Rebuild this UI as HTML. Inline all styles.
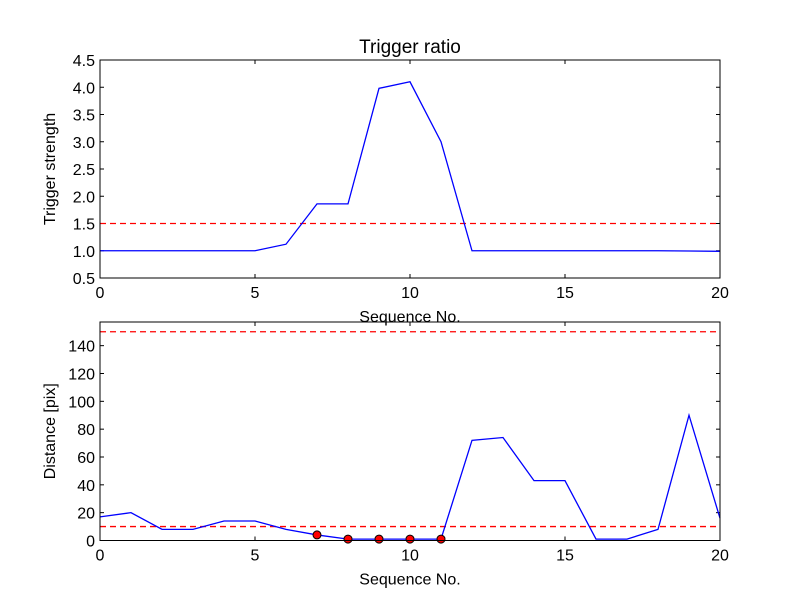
<!DOCTYPE html>
<html><head><meta charset="utf-8"><style>
body{margin:0;background:#fff}
svg text{font-family:"Liberation Sans",sans-serif;fill:#000}
</style></head><body>
<svg width="800" height="600" xmlns="http://www.w3.org/2000/svg">
<rect width="800" height="600" fill="#fff"/>
<g id="g"></g>
</svg>
<script>
const seq=[0,1,2,3,4,5,6,7,8,9,10,11,12,13,14,15,16,17,18,19,20];
const strength=[1,1,1,1,1,1,1.12,1.86,1.86,3.98,4.1,3.0,1,1,1,1,1,1,1,0.995,0.99];
const strengthThreshold=1.5;
const distance=[17,20,8,8,14,14,8,4,1,1,1,1,72,74,43,43,1,1,8,90,16];
const markerSeq=[7,8,9,10,11];
const markerVals=[4,1,1,1,1];
const distThresholds=[10,150];
const xTicks=[0,5,10,15,20];
const topTicks=[0.5,1.0,1.5,2.0,2.5,3.0,3.5,4.0,4.5];
const botTicks=[0,20,40,60,80,100,120,140];

const NS="http://www.w3.org/2000/svg";
const g=document.getElementById('g');
function el(t,a,p){const e=document.createElementNS(NS,t);for(const k in a)e.setAttribute(k,a[k]);(p||g).appendChild(e);return e;}
function txt(s,a){const e=el('text',a);e.textContent=s;return e;}
const X0=100,X1=720;
const xs=v=>X0+(v-0)/20*(X1-X0);

function panel(name,top,bot,ymin,ymax,yticks,fmt,ylabel){
  const ys=v=>bot-(v-ymin)/(ymax-ymin)*(bot-top);
  const grp=el('g',{});
  
  
  xTicks.forEach(t=>{
    el('line',{x1:xs(t),x2:xs(t),y1:bot,y2:bot-4,stroke:'#000'},grp);
    el('line',{x1:xs(t),x2:xs(t),y1:top,y2:top+4,stroke:'#000'},grp);
    const e=txt(t,{x:xs(t),y:bot+20,'font-size':16,'text-anchor':'middle'});
    
    
  });
  yticks.forEach(t=>{
    el('line',{x1:X0,x2:X0+4,y1:ys(t),y2:ys(t),stroke:'#000'},grp);
    el('line',{x1:X1,x2:X1-4,y1:ys(t),y2:ys(t),stroke:'#000'},grp);
    const e=txt(fmt(t),{x:X0-5,y:ys(t)+6,'font-size':16,'text-anchor':'end'});
    
    
  });
  const yl=txt(ylabel,{x:0,y:0,'font-size':16,'text-anchor':'middle',transform:`translate(${X0-45},${(top+bot)/2}) rotate(-90)`});
  
  
  const xl=txt('Sequence No.',{x:(X0+X1)/2,y:bot+44,'font-size':16,'text-anchor':'middle'});
  
  
  return {ys,grp,top,bot};
}

const p1=panel('top-panel',60,278,0.5,4.5,topTicks,v=>v.toFixed(1),'Trigger strength');
const th1=el('line',{x1:X0,x2:X1,y1:p1.ys(strengthThreshold),y2:p1.ys(strengthThreshold),stroke:'#f00','stroke-width':1.3,'stroke-dasharray':'6,4'});


const l1=el('polyline',{points:seq.map((s,i)=>xs(s)+','+p1.ys(strength[i])).join(' '),fill:'none',stroke:'#00f','stroke-width':1.3});


el('rect',{x:X0,y:60,width:X1-X0,height:218,fill:'none',stroke:'#000','stroke-width':1});
const tt=txt('Trigger ratio',{x:410,y:53,'font-size':19,'text-anchor':'middle'});



const p2=panel('bottom-panel',322,540.5,0,157,botTicks,v=>String(v),'Distance [pix]');
distThresholds.forEach(t=>{
  const e=el('line',{x1:X0,x2:X1,y1:p2.ys(t),y2:p2.ys(t),stroke:'#f00','stroke-width':1.3,'stroke-dasharray':'6,4'});
  
  
});
const l2=el('polyline',{points:seq.map((s,i)=>xs(s)+','+p2.ys(distance[i])).join(' '),fill:'none',stroke:'#00f','stroke-width':1.3});


markerSeq.forEach((s,i)=>{
  const c=el('circle',{cx:xs(s),cy:p2.ys(markerVals[i]),r:4,fill:'#f00',stroke:'#000','stroke-width':1});
  
  
});
el('rect',{x:X0,y:322,width:X1-X0,height:218.5,fill:'none',stroke:'#000','stroke-width':1});
</script>
</body></html>
